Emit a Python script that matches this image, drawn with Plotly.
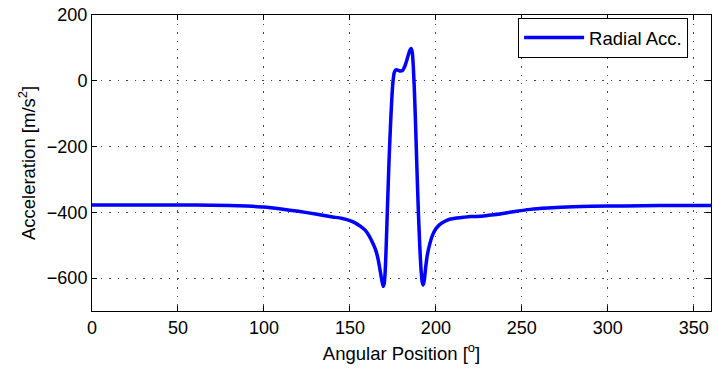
import plotly.graph_objects as go

angle = [0, 20, 40, 60, 80, 90, 100, 110, 120, 130, 140, 145, 150, 153, 156, 159, 161, 163, 165,
         166.5, 167.5, 168.5, 169.3, 170, 170.7, 171.3, 172, 172.7, 173.4, 174.2, 175, 175.8,
         176.6, 177.5, 179, 180.5, 182, 183.5, 184.8, 185.6, 186.3, 186.9, 187.5, 188.1, 188.7,
         189.3, 189.9, 190.6, 191.3, 192, 192.6, 193.3, 194, 195, 196.5, 198, 200, 202, 205, 208,
         212, 216, 220, 226, 232, 238, 245, 255, 265, 280, 300, 320, 340, 360]
radial_acc = [-378, -378, -378, -378, -379, -381, -384, -390, -397, -405, -414, -418, -425, -432,
              -442, -455, -470, -490, -515, -545, -575, -605, -625, -615, -560, -470, -360, -250,
              -160, -70, -5, 25, 33, 33, 30, 31, 45, 70, 92, 98, 85, 40, -30, -120, -220, -320,
              -410, -500, -570, -610, -621, -605, -570, -530, -495, -470, -450, -438, -428, -421,
              -417, -415, -413, -412, -408, -404, -398, -391, -387, -383, -381, -380, -379, -379]

x_ticks = [0, 50, 100, 150, 200, 250, 300, 350]
y_ticks = [-600, -400, -200, 0, 200]

fig = go.Figure()
fig.add_trace(go.Scatter(x=angle, y=radial_acc, mode="lines", name="Radial Acc.",
                         line=dict(color="#0000FF", width=3.5, shape="spline", smoothing=0.5)))

family = "Liberation Sans, Arial, sans-serif"
tick_font = dict(family=family, size=18, color="#000000")
title_font = dict(family=family, size=18.5, color="#000000")
axis_common = dict(showline=True, linecolor="#000000", linewidth=1, mirror="allticks",
                   ticks="inside", ticklen=5, tickcolor="#000000",
                   showgrid=True, gridcolor="#444444", griddash="1.5px,7px", gridwidth=1,
                   zeroline=False, tickfont=tick_font)

fig.update_xaxes(range=[0, 360], tickvals=x_ticks,
                 title=dict(text="Angular Position [<sup>o</sup>]", font=title_font, standoff=10),
                 **axis_common)
fig.update_yaxes(range=[-700, 200], tickvals=y_ticks,
                 ticktext=[str(v).replace("-", "\u2212") for v in y_ticks],
                 title=dict(text="Acceleration [m/s<sup>2</sup>]", font=title_font, standoff=6),
                 **axis_common)

fig.update_layout(width=716, height=373, margin=dict(l=92, r=5, t=15, b=62),
                  plot_bgcolor="#FFFFFF", paper_bgcolor="#FFFFFF",
                  font=dict(family=family, size=18, color="#000000"),
                  showlegend=True,
                  legend=dict(x=0.963, y=0.99, xanchor="right", yanchor="top",
                              bgcolor="#FFFFFF", bordercolor="#000000", borderwidth=1,
                              itemwidth=60, tracegroupgap=0,
                              font=dict(family=family, size=18.5, color="#000000")))

fig.write_html("out.html")
